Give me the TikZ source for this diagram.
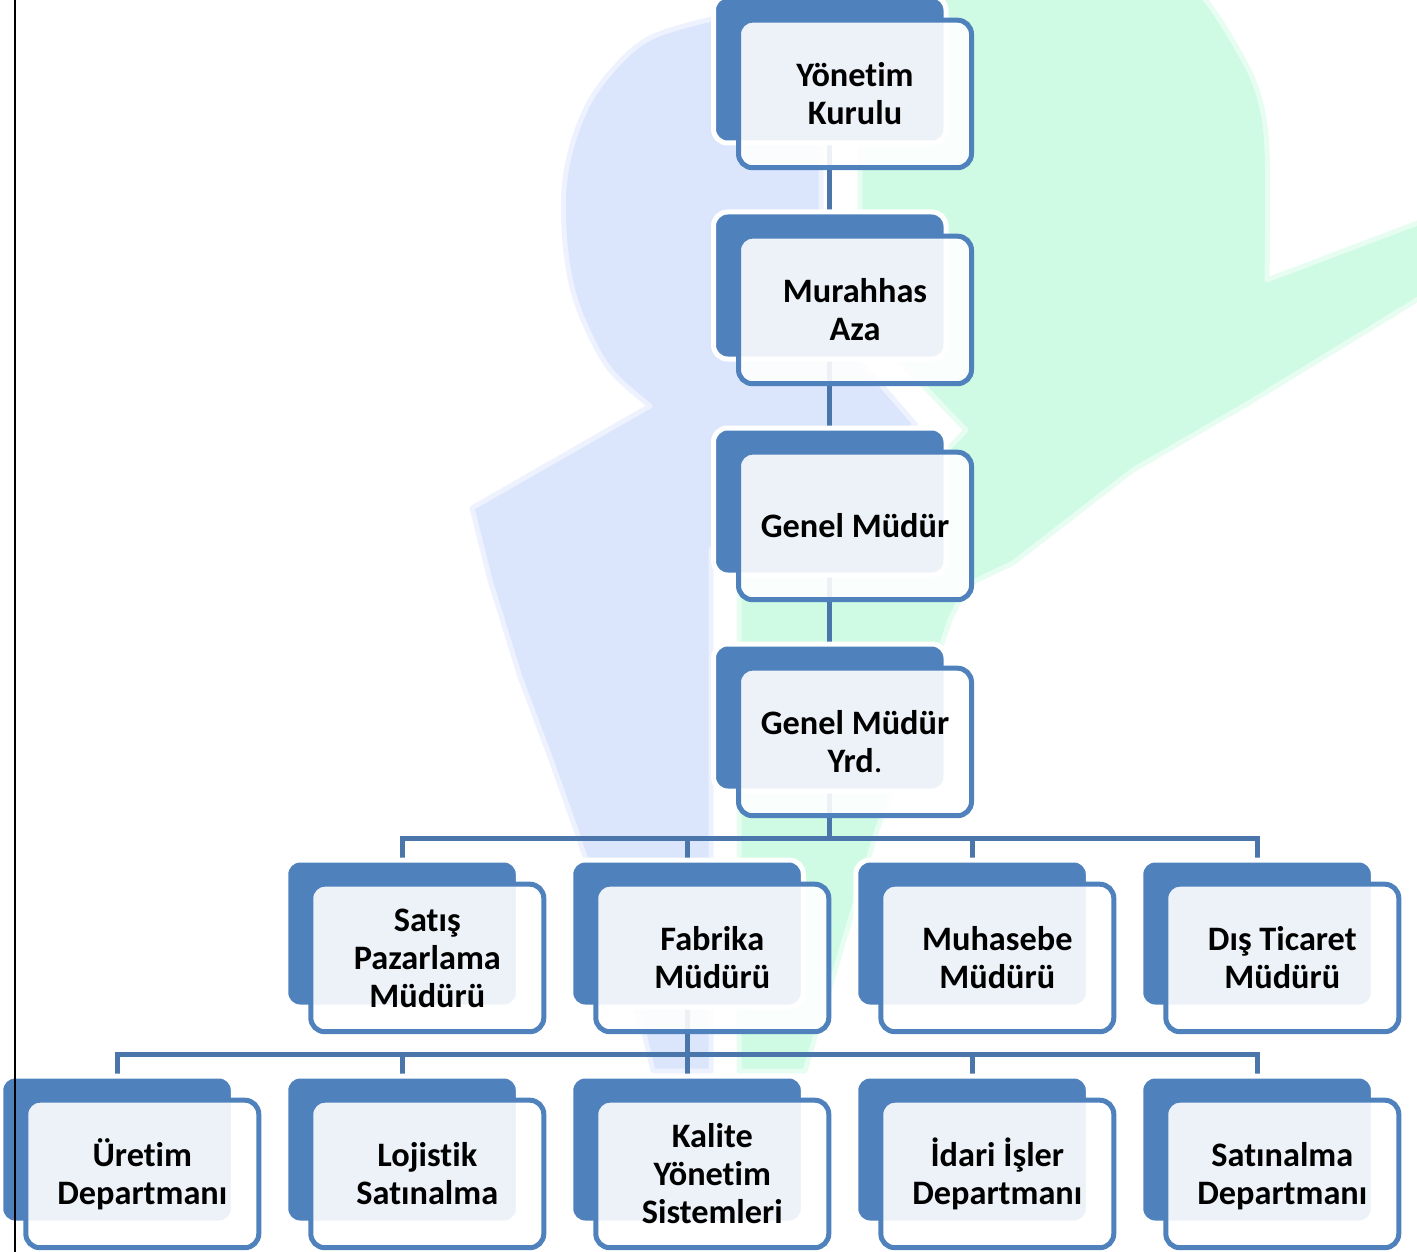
\documentclass[tikz,border=0pt]{standalone}
\usepackage{fontspec}
\setmainfont{Carlito}[Ligatures=NoCommon]
\pgfdeclarelayer{wm}
\pgfdeclarelayer{conn}
\pgfsetlayers{wm,conn,main}
\definecolor{boxblue}{HTML}{4F81BD}
\definecolor{linkblue}{HTML}{4A76AB}
\definecolor{wmblue}{HTML}{DBE5FC}
\definecolor{wmbluesoft}{HTML}{EDF2FE}
\definecolor{wmgreen}{HTML}{CFFBE4}
\definecolor{wmgreensoft}{HTML}{E7FDF2}
\tikzset{
  backbox/.style={rectangle,rounded corners=14pt,draw=white,fill=boxblue,line width=5pt,
    minimum width=232.5pt,minimum height=147pt,inner sep=0pt,outer sep=0pt},
  frontbox/.style={rectangle,rounded corners=14pt,draw=boxblue,fill=white,line width=5pt,
    fill opacity=0.9,draw opacity=1,text opacity=1,
    minimum width=233pt,minimum height=147.5pt,inner sep=0pt,outer sep=0pt,
    align=center,font=\fontsize{34.3}{38}\selectfont\bfseries},
  link/.style={draw=linkblue,line width=5pt},
}
% #1 name, #2 left of the back box, #3 top of the back box, #4 text
\newcommand{\orgbox}[4]{%
  \node[backbox] (#1b) at (#2+113.75,#3+71) {};
  \node[frontbox] (#1) at (#2+139,#3+95.45) {\rule{0pt}{34pt}#4\rule[-10pt]{0pt}{10pt}};
}
\begin{document}
\begin{tikzpicture}[x=1pt,y=-1pt]
\useasboundingbox (0,0) rectangle (1417,1252);
\begin{pgfonlayer}{wm}
  % blue part of the watermark
  \filldraw[fill=wmblue,draw=wmbluesoft,line width=5pt,line join=round]
    plot[smooth,tension=0.6] coordinates {(712,19) (650,38) (610,73) (583,115) (566,172) (564,230) (572,287) (589,333) (612,372) (650,406)}
    -- (472,508) -- (490,580) -- (520,677) -- (550,757) -- (577,833) -- (645,1037) -- (653,1071)
    -- (711,1071) -- (711,550) -- (760,500) -- (916,425) -- (882,386) -- (821,320) -- (821,15) -- cycle;
  % green part of the watermark
  \filldraw[fill=wmgreen,draw=wmgreensoft,line width=5pt,line join=round]
    (860,-5) -- (860,320) -- (966,430) -- (900,500) -- (739,560) -- (739,1071) -- (805,1071)
    -- (877,830) -- (950,620) -- (967,585) -- (1013,563) -- (1133,470) -- (1247,404) -- (1420,298)
    -- (1420,222) -- (1267,280)
    -- plot[smooth,tension=0.6] coordinates {(1267,280) (1267,150) (1258,93) (1238,50) (1211,7) (1200,-5)}
    -- cycle;
\end{pgfonlayer}

\orgbox{yk}{716}{-1.5}{Yönetim\\Kurulu}
\orgbox{ma}{716}{214.5}{Murahhas\\Aza}
\orgbox{gm}{716}{430.5}{Genel Müdür}
\orgbox{gy}{716}{646.5}{Genel Müdür\\Yrd{\mdseries.}}

\orgbox{sp}{288.3}{862.5}{Satış\\Pazarlama\\Müdürü}
\orgbox{fm}{573.3}{862.5}{Fabrika\\Müdürü}
\orgbox{mm}{858.3}{862.5}{Muhasebe\\Müdürü}
\orgbox{dt}{1143.3}{862.5}{Dış Ticaret\\Müdürü}

\orgbox{ur}{3.3}{1078.5}{Üretim\\Departmanı}
\orgbox{lo}{288.3}{1078.5}{Lojistik\\Satınalma}
\orgbox{ka}{573.3}{1078.5}{Kalite\\Yönetim\\Sistemleri}
\orgbox{id}{858.3}{1078.5}{İdari İşler\\Departmanı}
\orgbox{sa}{1143.3}{1078.5}{Satınalma\\Departmanı}

\coordinate (busa) at (gyb.south |- 0,838);
\coordinate (busb) at (fmb.south |- 0,1054);

\begin{pgfonlayer}{conn}
  \draw[link] (ykb.south) -- (mab.north);
  \draw[link] (mab.south) -- (gmb.north);
  \draw[link] (gmb.south) -- (gyb.north);
  \draw[link] (gyb.south) -- (busa);
  \draw[link] (busa) -| (spb.north);
  \draw[link] (busa) -| (fmb.north);
  \draw[link] (busa) -| (mmb.north);
  \draw[link] (busa) -| (dtb.north);
  \draw[link] (fmb.south) -- (busb);
  \draw[link] (busb) -| (urb.north);
  \draw[link] (busb) -| (lob.north);
  \draw[link] (busb) -- (kab.north);
  \draw[link] (busb) -| (idb.north);
  \draw[link] (busb) -| (sab.north);
\end{pgfonlayer}

% vertical black rule at the left
\draw[black,line width=2pt] (15,0) -- (15,1252);
\end{tikzpicture}
\end{document}
